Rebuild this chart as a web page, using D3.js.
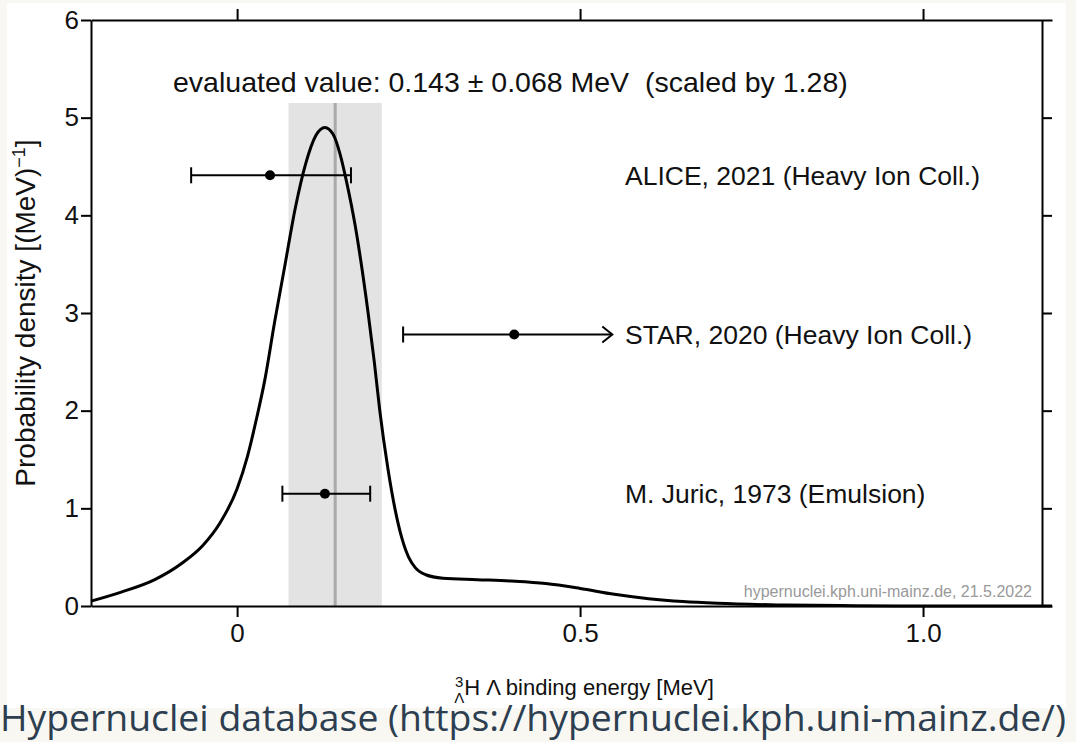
<!DOCTYPE html>
<html>
<head>
<meta charset="utf-8">
<script src="https://cdn.jsdelivr.net/npm/d3@7"></script>
<style>
  body { margin: 0; background: #f9f7f2; }
  svg { display: block; }
</style>
</head>
<body>
<svg id="chart" width="1076" height="742"></svg>
<script>
// probability density curve
var curveX = [-0.213, -0.17, -0.12, -0.08, -0.05, -0.025, 0.0, 0.015, 0.029, 0.04, 0.055, 0.07, 0.085, 0.10, 0.115, 0.128,
              0.14, 0.15, 0.16, 0.172, 0.18, 0.191, 0.20, 0.208, 0.22, 0.23, 0.24, 0.25, 0.26, 0.275, 0.30, 0.35,
              0.40, 0.45, 0.50, 0.55, 0.60, 0.65, 0.70, 0.80, 0.90, 1.0, 1.188];
var curveY = [0.05, 0.14, 0.27, 0.44, 0.62, 0.85, 1.2, 1.53, 1.94, 2.3, 2.92, 3.5, 4.08, 4.53, 4.82, 4.9,
              4.83, 4.63, 4.33, 3.9, 3.55, 3.0, 2.5, 2.0, 1.4, 1.0, 0.7, 0.5, 0.39, 0.32, 0.285, 0.27,
              0.255, 0.23, 0.18, 0.12, 0.075, 0.045, 0.027, 0.01, 0.003, 0.0, 0.0];

// measurements
var measLabels = ["ALICE, 2021 (Heavy Ion Coll.)", "STAR, 2020 (Heavy Ion Coll.)", "M. Juric, 1973 (Emulsion)"];
var measValue = [0.048, 0.404, 0.128];
var measLow = [-0.067, 0.242, 0.066];
var measHigh = [0.166, 0.547, 0.194];
var measRow = [4.41, 2.78, 1.15];
var measArrow = [false, true, false];

var evalValue = 0.143;
var evalErr = 0.068;
var evalText = "evaluated value: 0.143 \u00b1 0.068 MeV\u00a0\u00a0(scaled by 1.28)";

var xTicks = [0, 0.5, 1.0];
var yTicks = [0, 1, 2, 3, 4, 5, 6];
var yRightTicks = [1, 2, 3, 4, 5];

var svg = d3.select("#chart");
var font = "'Liberation Sans', Arial, sans-serif";

// white picture area
svg.append("rect")
  .attr("x", 7).attr("y", 3)
  .attr("width", 1059).attr("height", 705)
  .style("fill", "white");

var x = d3.scaleLinear().domain([-0.213, 1.188]).range([91, 1052]);
var y = d3.scaleLinear().domain([0, 6]).range([606, 20]);
var rightX = 1042;

// evaluated band + central line
svg.append("rect")
  .attr("x", x(evalValue - evalErr))
  .attr("y", y(5.15))
  .attr("width", x(evalValue + evalErr) - x(evalValue - evalErr))
  .attr("height", y(0) - y(5.15))
  .style("fill", "#e3e3e3");

svg.append("line")
  .attr("x1", x(evalValue)).attr("x2", x(evalValue))
  .attr("y1", y(5.15)).attr("y2", y(0))
  .style("stroke", "#a9a9a9").style("stroke-width", 3);

// curve
var pts = curveX.map(function(d, i){ return [d, curveY[i]]; });
var line = d3.line()
  .x(function(d){ return x(d[0]); })
  .y(function(d){ return y(d[1]); })
  .curve(d3.curveMonotoneX);

svg.append("path")
  .datum(pts)
  .attr("d", line)
  .style("fill", "none")
  .style("stroke", "black")
  .style("stroke-width", 3);

// axes
function styleAxis(g){
  g.selectAll("path, line").style("stroke", "black").style("stroke-width", 2);
  g.selectAll("text").style("font-family", font).style("font-size", "26px").style("fill", "#111");
}

svg.append("g")
  .attr("transform", "translate(0," + y(0) + ")")
  .call(d3.axisBottom(x).tickValues(xTicks).tickSize(11).tickSizeOuter(0).tickPadding(7)
    .tickFormat(function(d){ return d === 0 ? "0" : d.toFixed(1); }))
  .call(styleAxis);

svg.append("g")
  .attr("transform", "translate(0," + y(6) + ")")
  .call(d3.axisTop(x).tickValues(xTicks).tickSize(11).tickSizeOuter(0).tickFormat(""))
  .call(styleAxis);

svg.append("g")
  .attr("transform", "translate(91,0)")
  .call(d3.axisLeft(y).tickValues(yTicks).tickSize(10).tickSizeOuter(0).tickPadding(2)
    .tickFormat(d3.format("d")))
  .call(styleAxis);

svg.append("g")
  .attr("transform", "translate(" + rightX + ",0)")
  .call(d3.axisRight(y).tickValues(yRightTicks).tickSize(10).tickSizeOuter(0).tickFormat(""))
  .call(styleAxis);

// error bars
var meas = svg.append("g").selectAll("g")
  .data(measLabels)
  .join("g");

meas.append("line")
  .attr("x1", function(d, i){ return x(measLow[i]); })
  .attr("x2", function(d, i){ return x(measHigh[i]); })
  .attr("y1", function(d, i){ return y(measRow[i]); })
  .attr("y2", function(d, i){ return y(measRow[i]); })
  .style("stroke", "black").style("stroke-width", 2);

meas.append("line")
  .attr("x1", function(d, i){ return x(measLow[i]); })
  .attr("x2", function(d, i){ return x(measLow[i]); })
  .attr("y1", function(d, i){ return y(measRow[i]) - 8; })
  .attr("y2", function(d, i){ return y(measRow[i]) + 8; })
  .style("stroke", "black").style("stroke-width", 2);

meas.append("path")
  .attr("d", function(d, i){
    var xe = x(measHigh[i]), ye = y(measRow[i]);
    if (measArrow[i]) {
      return "M" + (xe - 10) + "," + (ye - 8) + "L" + xe + "," + ye + "L" + (xe - 10) + "," + (ye + 8);
    }
    return "M" + xe + "," + (ye - 8) + "L" + xe + "," + (ye + 8);
  })
  .style("fill", "none")
  .style("stroke", "black").style("stroke-width", 2);

meas.append("circle")
  .attr("cx", function(d, i){ return x(measValue[i]); })
  .attr("cy", function(d, i){ return y(measRow[i]); })
  .attr("r", 5)
  .style("fill", "black");

meas.append("text")
  .attr("x", 625)
  .attr("y", function(d, i){ return y(measRow[i]); })
  .attr("dy", "0.35em")
  .style("font-family", font).style("font-size", "26.5px").style("fill", "#111")
  .text(function(d){ return d; });

// evaluated value text
svg.append("text")
  .attr("x", 173).attr("y", 92)
  .style("font-family", font).style("font-size", "28.5px").style("fill", "#111")
  .text(evalText);

// watermark
svg.append("text")
  .attr("x", 1032).attr("y", 597)
  .attr("text-anchor", "end")
  .style("font-family", "'Liberation Sans Narrow', 'Liberation Sans', Arial, sans-serif")
  .style("font-stretch", "condensed")
  .style("font-size", "16px").style("fill", "#999")
  .text("hypernuclei.kph.uni-mainz.de, 21.5.2022");

// y axis title
var yt = svg.append("text")
  .attr("transform", "translate(35,313) rotate(-90)")
  .attr("text-anchor", "middle")
  .style("font-family", font).style("font-size", "28px").style("fill", "#111");
yt.append("tspan").text("Probability density [(MeV)");
yt.append("tspan").attr("dy", "-10").style("font-size", "18px").text("\u22121");
yt.append("tspan").attr("dy", "10").text("]");

// x axis title
var xt = svg.append("text")
  .attr("x", 584).attr("y", 695)
  .attr("text-anchor", "middle")
  .style("font-family", font).style("font-size", "22px").style("fill", "#111");
xt.append("tspan").attr("dy", "-8").style("font-size", "15px").text("3");
xt.append("tspan").attr("dx", "-9").attr("dy", "16").style("font-size", "15px").text("\u039b");
xt.append("tspan").attr("dy", "-8").text("H \u039b binding energy [MeV]");

// caption
svg.append("text")
  .attr("x", 0).attr("y", 731)
  .attr("textLength", 1066)
  .attr("lengthAdjust", "spacingAndGlyphs")
  .style("font-family", "'Open Sans', 'Noto Sans', sans-serif")
  .style("font-size", "36px").style("fill", "#2c3e50")
  .text("Hypernuclei database (https://hypernuclei.kph.uni-mainz.de/)");
</script>
</body>
</html>
